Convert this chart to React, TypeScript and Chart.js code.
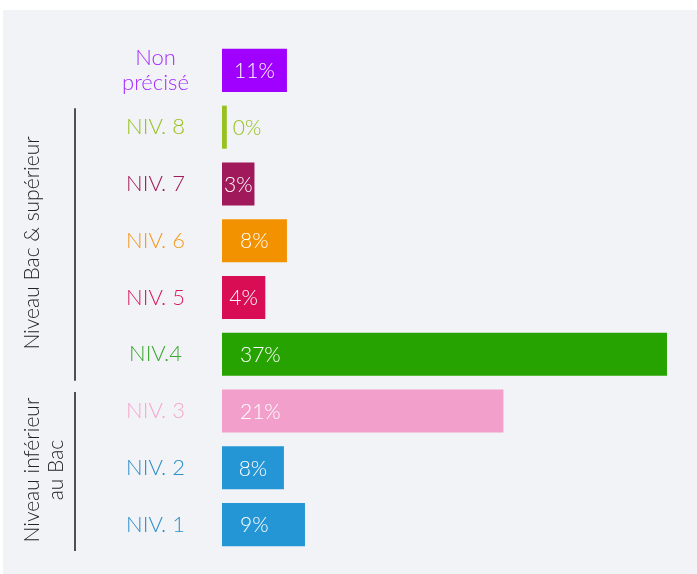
import React, { useEffect, useRef } from 'react';
import { Chart, registerables } from 'chart.js';

Chart.register(...registerables);

// ---- data ----
const categories: (string | string[])[] = [
  ['Non', 'précisé'],
  'NIV. 8',
  'NIV. 7',
  'NIV. 6',
  'NIV. 5',
  'NIV.4',
  'NIV. 3',
  'NIV. 2',
  'NIV. 1',
];
// bar lengths as drawn in the picture (same unit as the 37% bar)
const barLengths = [5.4, 0.4, 2.7, 5.4, 3.6, 37, 23.4, 5.15, 6.9];
// percentages printed on the bars
const percentLabels = ['11%', '0%', '3%', '8%', '4%', '37%', '21%', '8%', '9%'];
const barColors = [
  '#A000FF',
  '#96C11F',
  '#A0195A',
  '#F39200',
  '#D90D53',
  '#26A300',
  '#F2A0CB',
  '#2596D5',
  '#2596D5',
];
const labelColors = [
  '#A62BFF',
  '#96C11F',
  '#A0195A',
  '#F39A20',
  '#D81B5C',
  '#3AA830',
  '#F5A8D0',
  '#2E8FC8',
  '#2E8FC8',
];
const groupLabels: string[][] = [['Niveau Bac & supérieur'], ['Niveau inférieur', 'au Bac']];
const groupFirst = [1, 6];
const groupLast = [5, 8];

const FONT = 'Lato, "Open Sans", sans-serif';
const WEIGHT = '300';
const W = 697;
const H = 574;

export default function App() {
  const ref = useRef<HTMLCanvasElement | null>(null);

  useEffect(() => {
    const canvas = ref.current!;
    const mctx = canvas.getContext('2d')!;
    mctx.font = `${WEIGHT} 22px ${FONT}`;
    let widest = 0;
    categories.forEach((c) => {
      (Array.isArray(c) ? c : [c]).forEach((s) => {
        widest = Math.max(widest, mctx.measureText(s).width);
      });
    });
    const labelCenter = 155.5;
    const axisRight = 222;
    const tickPad = Math.max(0, axisRight - labelCenter - widest / 2);

    const bgPlugin = {
      id: 'bg',
      beforeDraw(chart: any) {
        const c = chart.ctx;
        c.save();
        c.fillStyle = '#ffffff';
        c.fillRect(0, 0, chart.width, chart.height);
        c.fillStyle = '#F2F3F7';
        c.fillRect(3, 10, chart.width - 3, chart.height - 10);
        c.restore();
      },
    };

    const valuePlugin = {
      id: 'values',
      afterDatasetsDraw(chart: any) {
        const c = chart.ctx;
        const meta = chart.getDatasetMeta(0);
        c.save();
        c.font = `${WEIGHT} 21px ${FONT}`;
        c.textBaseline = 'middle';
        meta.data.forEach((bar: any, i: number) => {
          const txt = percentLabels[i];
          const tw = c.measureText(txt).width;
          const start = bar.base;
          const end = bar.x;
          const bw = end - start;
          if (bw < tw * 0.6) {
            c.fillStyle = barColors[i];
            c.textAlign = 'left';
            c.fillText(txt, end + 6, bar.y + 1);
          } else {
            c.fillStyle = '#ffffff';
            c.textAlign = 'center';
            const cx = Math.min((start + end) / 2, start + 18 + tw / 2);
            c.fillText(txt, cx, bar.y + 1);
          }
        });
        c.restore();
      },
    };

    const groupPlugin = {
      id: 'groups',
      afterDraw(chart: any) {
        const c = chart.ctx;
        const ys = chart.scales.y;
        c.save();
        groupLabels.forEach((lines, g) => {
          const top = ys.getPixelForValue(groupFirst[g]) - 19;
          const bottom = ys.getPixelForValue(groupLast[g]) + 26.5;
          c.strokeStyle = '#1a1a1a';
          c.lineWidth = 1.5;
          c.beginPath();
          c.moveTo(75, top);
          c.lineTo(75, bottom);
          c.stroke();

          const mid = (top + bottom) / 2 - 1.5;
          c.save();
          c.translate(38.5, mid);
          c.rotate(-Math.PI / 2);
          c.fillStyle = '#222222';
          c.font = `${WEIGHT} 21px ${FONT}`;
          c.textAlign = 'center';
          c.textBaseline = 'alphabetic';
          lines.forEach((ln, k) => {
            c.fillText(ln, 0, k * 24);
          });
          c.restore();
        });
        c.restore();
      },
    };

    const chart = new Chart(canvas, {
      type: 'bar',
      data: {
        labels: categories as any,
        datasets: [
          {
            data: barLengths,
            backgroundColor: barColors,
            borderWidth: 0,
            barPercentage: 0.758,
            categoryPercentage: 1,
          },
        ],
      },
      options: {
        indexAxis: 'y',
        responsive: false,
        animation: false,
        devicePixelRatio: 1,
        layout: { padding: { left: 0, right: 18, top: 42, bottom: 21 } },
        plugins: {
          legend: { display: false },
          tooltip: { enabled: false },
          title: { display: false },
        },
        scales: {
          x: {
            display: false,
            min: 0,
            max: 38,
          },
          y: {
            grid: { display: false, drawTicks: false },
            border: { display: false },
            afterFit(scale: any) {
              scale.width = axisRight;
              scale.paddingTop = 0;
              scale.paddingBottom = 0;
            },
            ticks: {
              crossAlign: 'center',
              padding: tickPad,
              autoSkip: false,
              color: (ctx: any) => labelColors[ctx.index] || '#333',
              font: { family: FONT, size: 22, weight: WEIGHT as any, lineHeight: 1.1 },
            },
          },
        },
      },
      plugins: [bgPlugin, valuePlugin, groupPlugin],
    });
    return () => chart.destroy();
  }, []);

  return (
    <div style={{ position: 'fixed', left: 0, top: 0, width: W, height: H }}>
      <canvas ref={ref} width={W} height={H} style={{ width: W, height: H, display: 'block' }} />
    </div>
  );
}
